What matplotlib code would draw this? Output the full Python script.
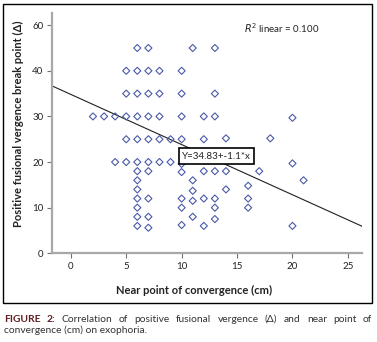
import numpy as np
import matplotlib
matplotlib.use("Agg")
import matplotlib.pyplot as plt
from matplotlib.patches import Rectangle

plt.rcParams['font.family'] = ['Lato', 'DejaVu Sans']

# near point of convergence (cm) and positive fusional vergence break point
npc = [6, 7, 11, 13,
       5, 6, 7, 8, 10,
       5, 6, 7, 8, 10, 13,
       2, 3, 4, 5, 6, 7, 8, 10, 12, 13, 20,
       5, 6, 7, 8, 9, 10, 12, 14, 18,
       4, 5, 6, 7, 8, 9, 10, 20,
       6, 7, 10, 12, 13, 14, 17,
       6, 11, 21,
       6, 11, 14, 16,
       6, 7, 10, 11, 12, 13, 16,
       6, 10, 13, 16,
       6, 7, 11, 13,
       6, 7, 10, 12, 20]
pfv = [45, 45, 45, 45,
       40, 40, 40, 40, 40,
       35, 35, 35, 35, 35, 35,
       30, 30, 30, 30, 30, 30, 30, 30, 30, 30, 29.7,
       25, 25, 25, 25, 25, 25, 25, 25.2, 25.2,
       20, 20, 20, 20, 20, 20, 19.6, 19.7,
       18, 18, 17.8, 18, 18, 18, 18,
       16, 16, 16,
       14, 13.7, 14, 14.8,
       12, 12, 12, 11.5, 12, 12, 12,
       10, 10, 10, 10,
       8, 8, 8, 7.5,
       6, 5.6, 6.2, 6, 6]

intercept = 34.83
slope = -1.1
r2_text = r"$R^2$ linear = 0.100"
eq_text = "Y=34.83+-1.1*x"

xticks = [0, 5, 10, 15, 20, 25]
yticks = [0, 10, 20, 30, 40, 50]
ytick_labels = ['0', '10', '20', '30', '40', '60']

fig = plt.figure(figsize=(3.77, 3.42), dpi=100)
ax = fig.add_axes([0.139, 0.2594, 0.822, 0.7016])

xlim = (-1.66, 26.3)
ax.set_xlim(*xlim)
ax.set_ylim(0, 52.6)

ax.scatter(npc, pfv, marker='D', s=13, facecolors='none',
           edgecolors='#4a5aa8', linewidths=0.8, zorder=3)

xl = np.array(xlim)
ax.plot(xl, intercept + slope * xl, color='#202020', lw=0.8, zorder=2)

ax.set_xticks(xticks)
ax.set_yticks(yticks)
ax.set_yticklabels(ytick_labels)
ax.tick_params(axis='both', labelsize=7, length=3.5, width=0.8,
               color='#707070', labelcolor='#222222', pad=3)

for side in ['top', 'right']:
    ax.spines[side].set_visible(False)
for side in ['left', 'bottom']:
    ax.spines[side].set_color('#a8a8a8')
    ax.spines[side].set_linewidth(1.6)

ax.text(0.619, 0.94, r2_text, transform=ax.transAxes, fontsize=7,
        ha='left', va='center', color='#222222')
ax.text(0.53, 0.405, eq_text, transform=ax.transAxes, fontsize=7,
        ha='center', va='center', color='#222222', zorder=5,
        bbox=dict(boxstyle='square,pad=0.35', fc='white', ec='black', lw=1.2))

fig.text(0.048, 0.637, "Positive fusional vergence break point (\u0394)",
         rotation=90, ha='center', va='center', fontsize=8, fontweight='bold',
         color='#222222')
fig.text(0.516, 0.152, "Near point of convergence (cm)", ha='center',
         va='center', fontsize=8, fontweight='bold', color='#222222')

# frame around the chart
fig.patches.append(Rectangle((0.0088, 0.113), 0.977, 0.875,
                             transform=fig.transFigure, fill=False,
                             ec='black', lw=1.0))

# caption, first line justified
line1 = [("FIGURE", True), ("2:", True), ("Correlation", False), ("of", False),
         ("positive", False), ("fusional", False), ("vergence", False),
         ("(\u0394)", False), ("and", False), ("near", False), ("point", False),
         ("of", False)]
line2 = "convergence (cm) on exophoria."

fig.canvas.draw()
renderer = fig.canvas.get_renderer()
words = []
for w, bold in line1:
    t = fig.text(0, 0.067, w, fontsize=7.4, ha='left', va='center',
                 fontweight='bold' if bold else 'normal',
                 color='#5e1e22' if bold else '#333333')
    words.append(t)
widths = [t.get_window_extent(renderer).width / fig.bbox.width for t in words]
x0, x1 = 0.01, 0.987
gap = (x1 - x0 - sum(widths)) / (len(words) - 1)
x = x0
for t, wd in zip(words, widths):
    t.set_x(x)
    x += wd + gap
fig.text(x0, 0.035, line2, fontsize=7.4, ha='left', va='center', color='#333333')

fig.savefig("out.png", dpi=100)
